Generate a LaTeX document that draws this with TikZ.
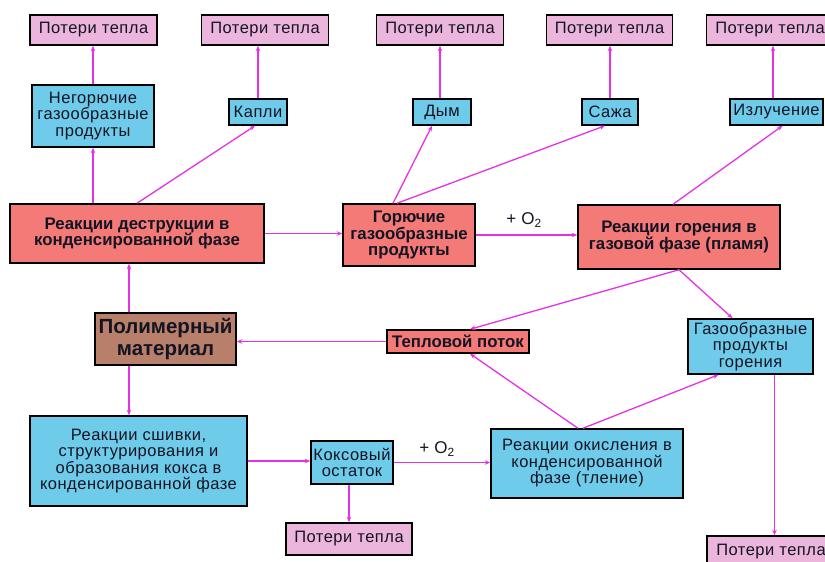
\documentclass[tikz,border=0pt]{standalone}
\usepackage{fontspec}
\setmainfont{Liberation Sans}
\newfontfamily\regfont[LetterSpace=3]{Liberation Sans}
\usetikzlibrary{arrows.meta}
\definecolor{pinkc}{RGB}{236,182,220}
\definecolor{bluec}{RGB}{110,203,234}
\definecolor{redc}{RGB}{244,122,120}
\definecolor{brownc}{RGB}{184,128,106}
\definecolor{arrc}{RGB}{230,50,230}
\definecolor{txtc}{RGB}{20,20,35}
\tikzset{
  box/.style={draw=black, line width=1.5pt, inner sep=0pt, align=center, text=txtc,
    font=\regfont\fontsize{16.5}{16.5}\selectfont},
  pinkbox/.style={box, fill=pinkc},
  bluebox/.style={box, fill=bluec},
  redbox/.style={box, fill=redc, font=\rmfamily\bfseries\fontsize{16.8}{16.8}\selectfont},
  brownbox/.style={box, fill=brownc, font=\rmfamily\bfseries\fontsize{20.5}{22}\selectfont},
  arr/.style={draw=arrc, line width=1.3pt, -{Stealth[length=5.5pt,width=4.5pt]}},
  lbl/.style={font=\regfont\fontsize{17}{17}\selectfont, inner sep=0pt, text=txtc}
}
\begin{document}
\begin{tikzpicture}[x=1pt,y=-1pt]
\useasboundingbox[fill=white] (0,0) rectangle (825,562);
% top heat losses
\node[pinkbox, minimum width=127, minimum height=30] (pt1) at (93.5,30) {Потери тепла};
\node[pinkbox, minimum width=127, minimum height=30] (pt2) at (265,30) {Потери тепла};
\node[pinkbox, minimum width=127, minimum height=30] (pt3) at (440,30) {Потери тепла};
\node[pinkbox, minimum width=126, minimum height=30] (pt4) at (609.5,30) {Потери тепла};
\node[pinkbox, minimum width=127, minimum height=30] (pt5) at (770,30) {Потери тепла};
% second row
\node[bluebox, minimum width=122, minimum height=62] (neg) at (93,116) {Негорючие\\газообразные\\продукты};
\node[bluebox, minimum width=58, minimum height=26] (kapli) at (258,112) {Капли};
\node[bluebox, minimum width=58, minimum height=26] (dym) at (442,112) {Дым};
\node[bluebox, minimum width=56, minimum height=26] (sazha) at (610,112) {Сажа};
\node[bluebox, minimum width=93, minimum height=26] (izl) at (776.5,112) {Излучение};
% reaction row
\node[redbox, minimum width=254, minimum height=59] (destr) at (137,233.5) {Реакции деструкции в\\конденсированной фазе};
\node[redbox, minimum width=132, minimum height=62] (gor) at (409,235) {Горючие\\газообразные\\продукты};
\node[redbox, minimum width=202, minimum height=64] (plam) at (679,237) {Реакции горения в\\газовой фазе (пламя)};
% middle
\node[brownbox, minimum width=141, minimum height=52] (poly) at (165.5,339) {Полимерный\\материал};
\node[redbox, minimum width=142, minimum height=23] (tepl) at (458,341.5) {Тепловой поток};
\node[bluebox, minimum width=125, minimum height=55] (gazprod) at (750.5,346.5) {Газообразные\\продукты\\горения};
% bottom
\node[bluebox, minimum width=217, minimum height=90] (sshiv) at (138.5,461) {Реакции сшивки,\\структурирования и\\образования кокса в\\конденсированной фазе};
\node[bluebox, minimum width=82, minimum height=43] (koks) at (352,462.5) {Коксовый\\остаток};
\node[pinkbox, minimum width=126, minimum height=32] (ptb) at (349,539) {Потери тепла};
\node[bluebox, minimum width=192, minimum height=69] (okis) at (587,463.5) {Реакции окисления в\\конденсированной\\фазе (тление)};
\node[pinkbox, minimum width=128, minimum height=32] (ptbr) at (771,552) {Потери тепла};
% labels
\node[lbl] (o2a) at (524,220) {+ O\textsubscript{2}};
\node[lbl] (o2b) at (437,449) {+ O\textsubscript{2}};
% connectors
\draw[arr] (neg.north) -- (neg.north |- pt1.south);
\draw[arr] (destr.north -| neg.south) -- (neg.south);
\draw[arr] (destr.north) -- ([xshift=-3]kapli.south);
\draw[arr] (kapli.north) -- (kapli.north |- pt2.south);
\draw[arr] (destr.east) -- (destr.east -| gor.west);
\draw[arr] ([xshift=-16]gor.north) -- ([xshift=-10]dym.south);
\draw[arr] ([xshift=-12]gor.north) -- ([xshift=-5]sazha.south);
\draw[arr] ([xshift=-2]dym.north) -- ([xshift=-2]dym.north |- pt3.south);
\draw[arr] (sazha.north) -- (sazha.north |- pt4.south);
\draw[arr] ([xshift=-6]plam.north) -- ([xshift=6]izl.south);
\draw[arr] ([xshift=-3.5]izl.north) -- ([xshift=-3.5]izl.north |- pt5.south);
\draw[arr] (gor.east) -- (gor.east -| plam.west);
\draw[arr] (plam.south) -- ([xshift=12]tepl.north);
\draw[arr] (plam.south) -- ([xshift=-18]gazprod.north);
\draw[arr] ([xshift=-9]okis.north) -- ([xshift=12]tepl.south);
\draw[arr] ([xshift=-4]okis.north) -- ([xshift=-32]gazprod.south);
\draw[arr] (tepl.west) -- (tepl.west -| poly.east);
\draw[arr] ([xshift=-36.5]poly.north) -- ([xshift=-36.5]poly.north |- destr.south);
\draw[arr] ([xshift=-36.5]poly.south) -- ([xshift=-36.5]poly.south |- sshiv.north);
\draw[arr] (sshiv.east) -- (sshiv.east -| koks.west);
\draw[arr] (koks.east) -- (koks.east -| okis.west);
\draw[arr] ([xshift=-3]koks.south) -- ([xshift=-3]koks.south |- ptb.north);
\draw[arr] ([xshift=24]gazprod.south) -- ([xshift=24]gazprod.south |- ptbr.north);
\end{tikzpicture}
\end{document}
